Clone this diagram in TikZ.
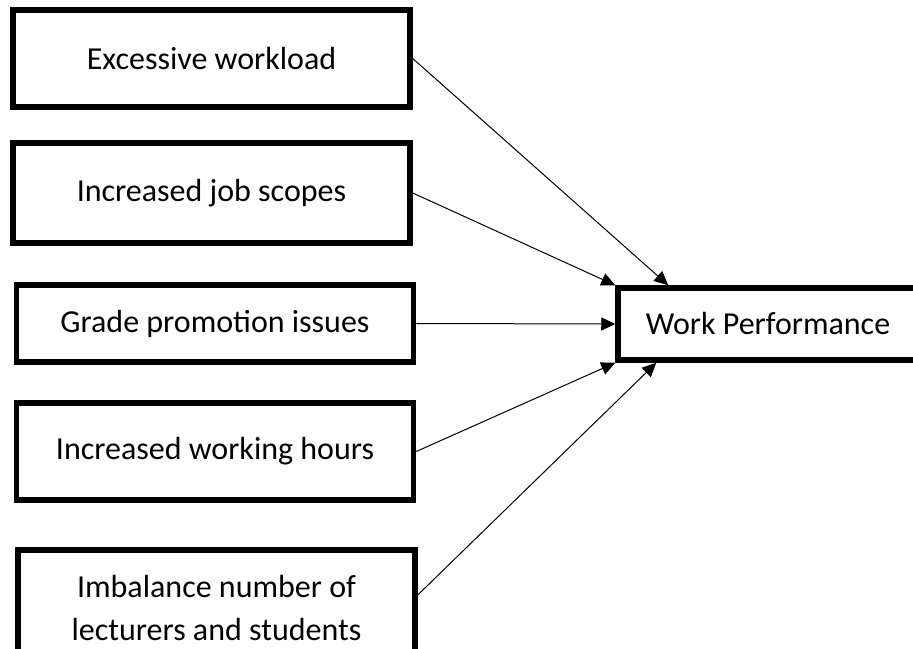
\documentclass[tikz,border=0pt]{standalone}
\usepackage{fontspec}
\setmainfont{Carlito}
\usetikzlibrary{calc,arrows.meta,positioning}

\tikzset{
  factor/.style={draw, line width=5.5pt, minimum width=397pt, inner sep=0pt,
    align=center, font=\fontsize{32}{43}\selectfont},
  outcome/.style={factor, minimum width=300pt, minimum height=72pt},
  link/.style={line width=1pt, -{Triangle[length=14pt,width=13pt]}}
}

\begin{document}
\begin{tikzpicture}[x=1pt,y=-1pt]
    \useasboundingbox (0,0) rectangle (913,648);
    \clip (0,0) rectangle (913,648);

    \node [factor, minimum height=97pt]  (load)  at (211.5,58.5) {Excessive workload};
    \node [factor, minimum height=100pt] (scope) at (211.5,193)  {Increased job scopes};
    \node [factor, minimum height=77pt]  (grade) at (215,323.5)  {Grade promotion issues};
    \node [factor, minimum height=97pt]  (hours) at (215,451.5)  {Increased working hours};
    \node [factor, minimum height=116pt] (ratio) at (216.5,608)  {Imbalance number of\\lecturers and students};

    \node [outcome] (perf) at (768,324) {Work Performance};

    \draw [link] (load.east)  -- ([xshift=53pt]perf.north west);
    \draw [link] (scope.east) -- (perf.north west);
    \draw [link] (grade.east) -- (perf.west);
    \draw [link] (hours.east) -- (perf.south west);
    \draw [link] ([yshift=13pt]ratio.east) -- ([xshift=41pt]perf.south west);
\end{tikzpicture}
\end{document}
